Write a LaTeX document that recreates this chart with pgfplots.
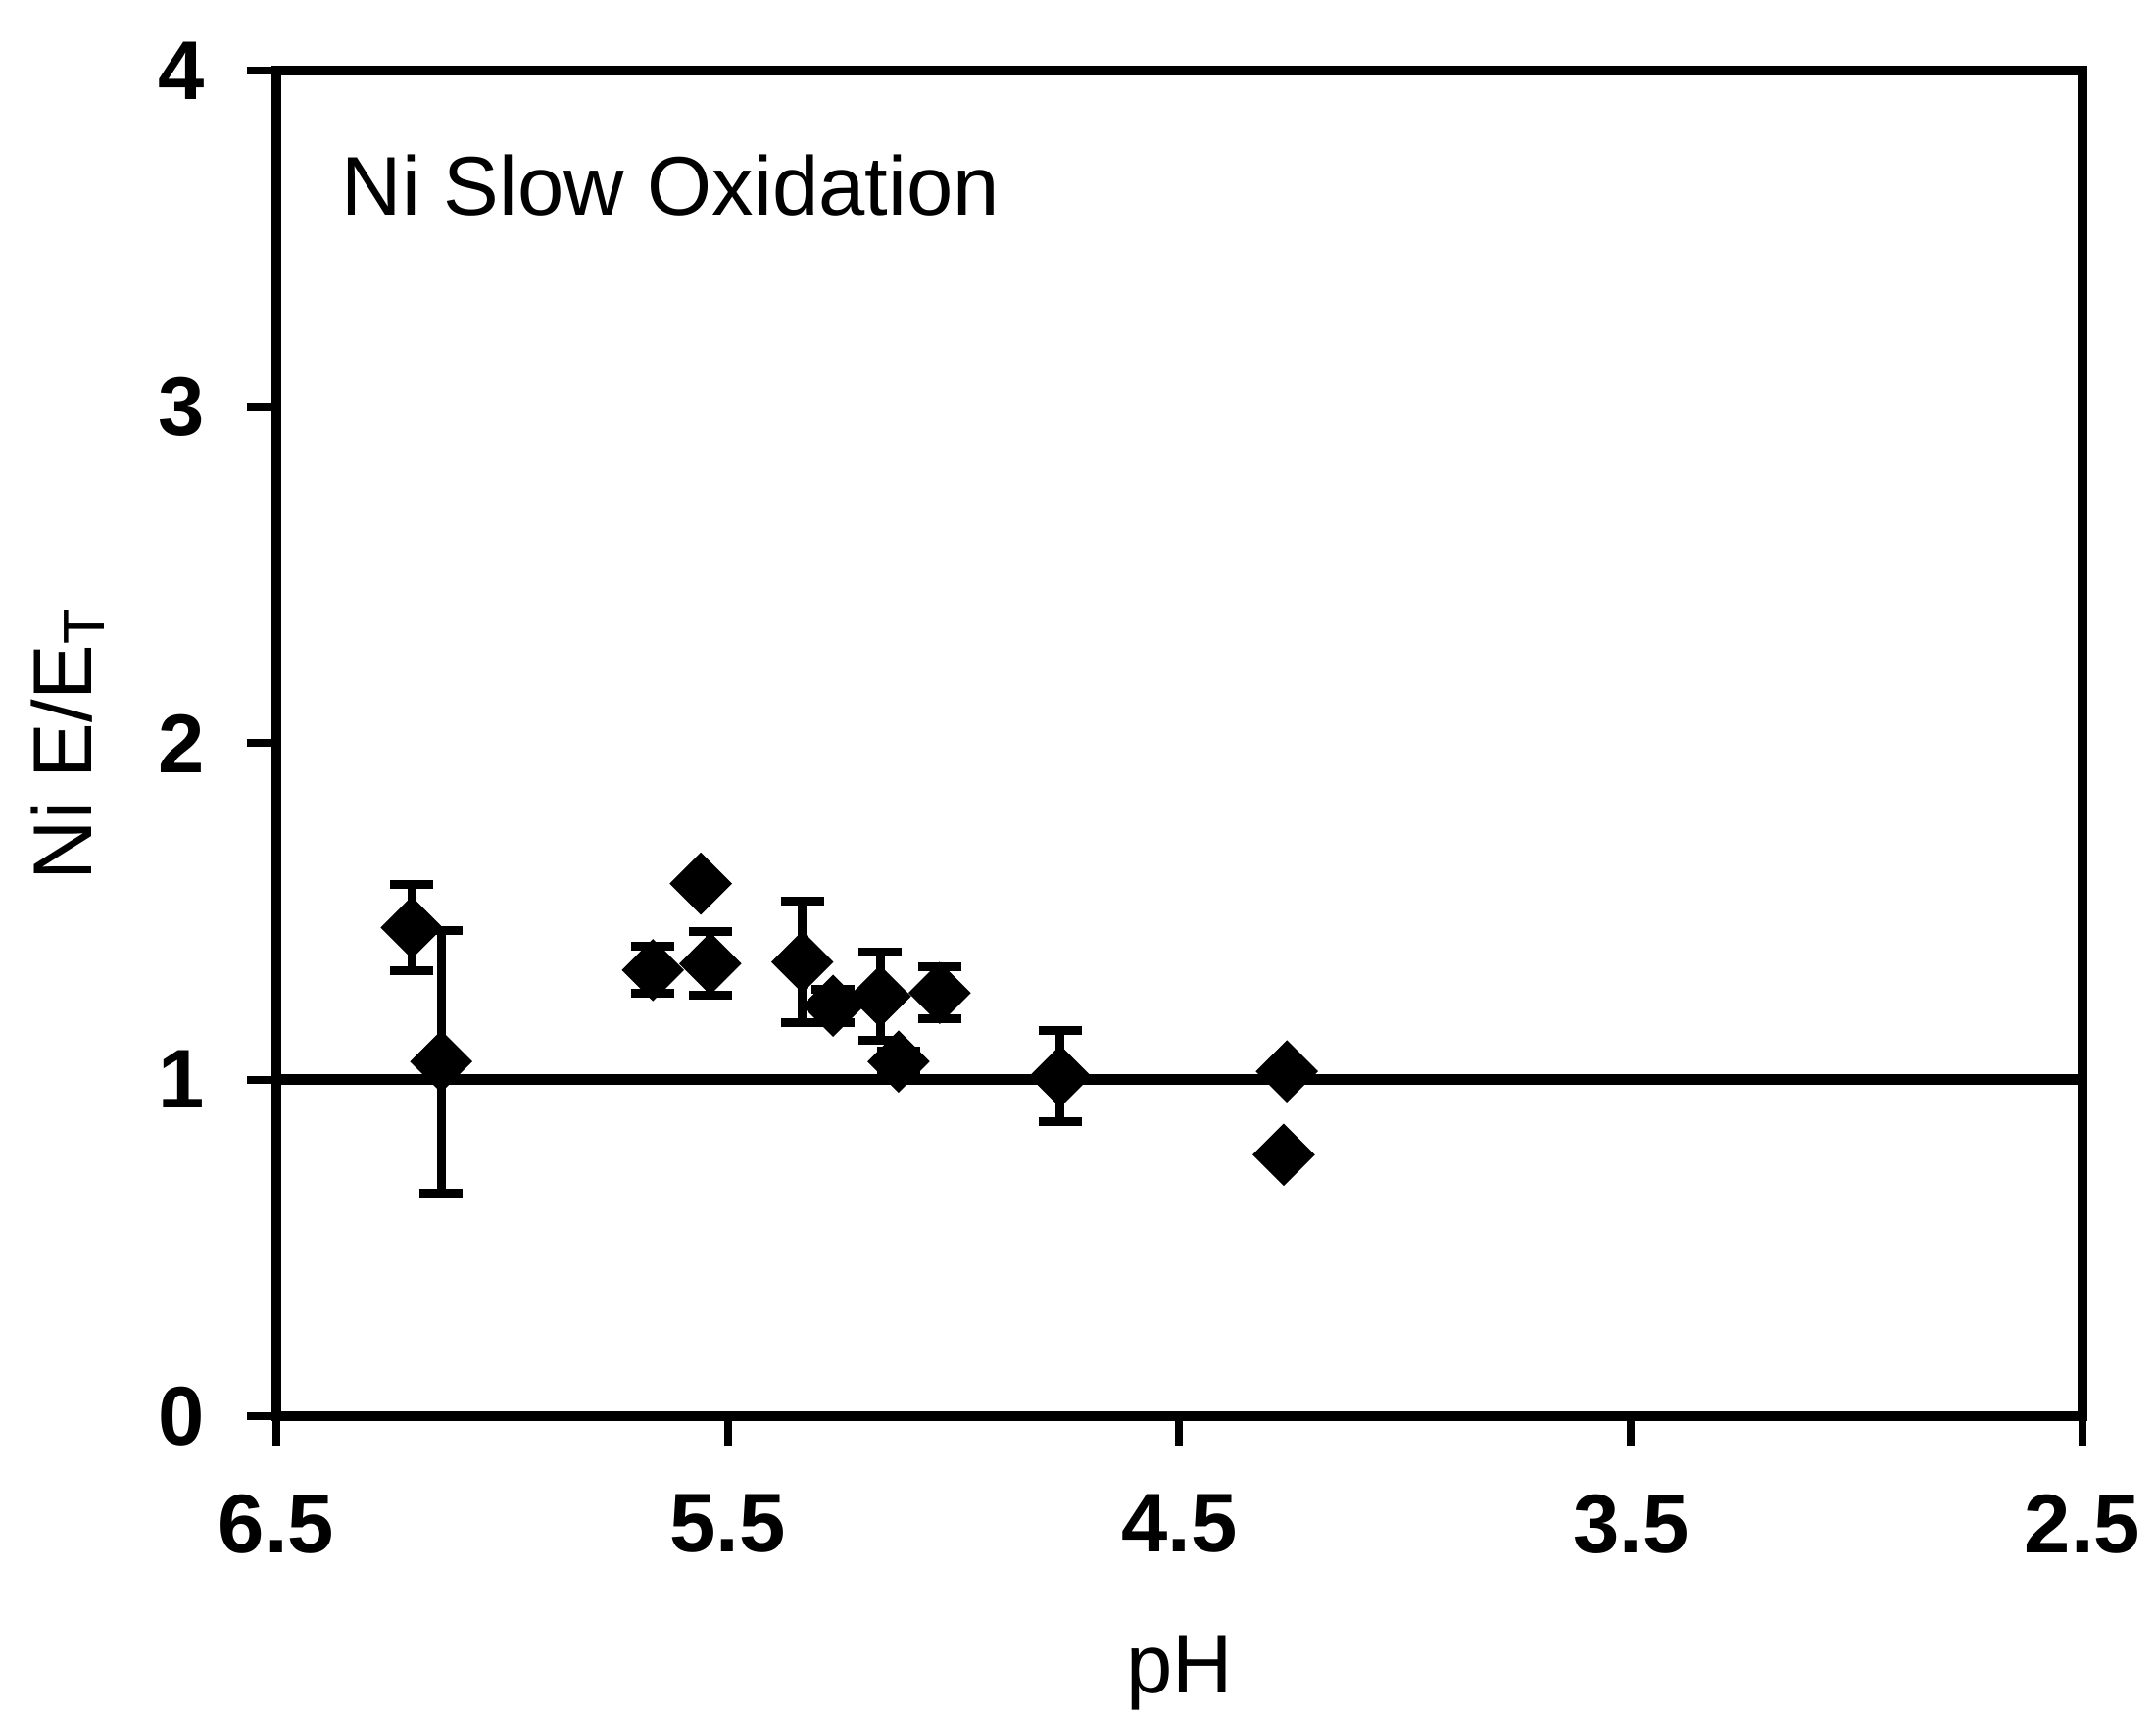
\documentclass[border=0pt]{standalone}
\usepackage{fontspec}
\setmainfont{Liberation Sans}
\usepackage{pgfplots}
\pgfplotsset{compat=1.18}
\pgfplotstableread{
x      y      e
6.200  1.452  0.128
6.135  1.054  0.390
5.666  1.326  0.070
5.539  1.345  0.095
5.335  1.350  0.180
5.267  1.220  0.050
5.163  1.248  0.131
5.031  1.258  0.078
5.122  1.054  0.030
4.764  1.010  0.135
}\errdata
\pgfplotstableread{
x      y
5.560  1.583
4.262  1.025
4.269  0.777
}\plaindata
\begin{document}
\begin{tikzpicture}
\begin{axis}[
  scale only axis, width=368.6pt, height=274.6pt,
  x dir=reverse, xmin=2.5, xmax=6.5, ymin=0, ymax=4,
  xtick={2.5,3.5,4.5,5.5,6.5}, xticklabels={2.5,3.5,4.5,5.5,6.5},
  ytick={0,1,2,3,4},
  tick pos=left, tick align=outside, major tick length=6pt,
  minor tick num=0,
  axis line style={line width=2pt},
  every tick/.style={line width=1.6pt, black},
  /pgf/number format/assume math mode=true,
  tick label style={font=\bfseries\fontsize{17}{20}\selectfont},
  xticklabel style={inner sep=0pt, anchor=north, yshift=-9.8pt},
  yticklabel style={inner sep=0pt, anchor=east, xshift=-8.4pt},
  every axis x label/.style={at={(axis description cs:0.5,0)}, yshift=-52.4pt, anchor=center, inner sep=0pt, font=\fontsize{17}{20}\selectfont},
  every axis y label/.style={at={(axis description cs:0,0.5)}, xshift=-42.6pt, rotate=90, anchor=center, inner sep=0pt, font=\fontsize{17}{20}\selectfont},
  xlabel={pH},
  ylabel={Ni E/E$_\mathrm{T}$},
  clip=false,
]
\addplot[line width=2.2pt, black, no marks] coordinates {(2.5,1) (6.5,1)};
\addplot[only marks, mark=square*, mark size=4.3pt, mark options={rotate=45, fill=black, draw=black, line width=0.4pt},
  error bars/.cd, y dir=both, y explicit,
  error bar style={line width=1.8pt, black},
  error mark options={rotate=90, mark size=4.4pt, line width=1.8pt, black}]
  table[x=x, y=y, y error=e] {\errdata};
\addplot[only marks, mark=square*, mark size=4.3pt, mark options={rotate=45, fill=black, draw=black, line width=0.4pt}]
  table[x=x, y=y] {\plaindata};
\node[anchor=west, inner sep=0pt, font=\fontsize{17}{20}\selectfont] at (axis description cs:0.0358,0.9148) {Ni Slow Oxidation};
\end{axis}
\path ([xshift=-56.4pt,yshift=-60.8pt]current axis.south west) rectangle ([xshift=15pt,yshift=14.4pt]current axis.north east);
\end{tikzpicture}
\end{document}
